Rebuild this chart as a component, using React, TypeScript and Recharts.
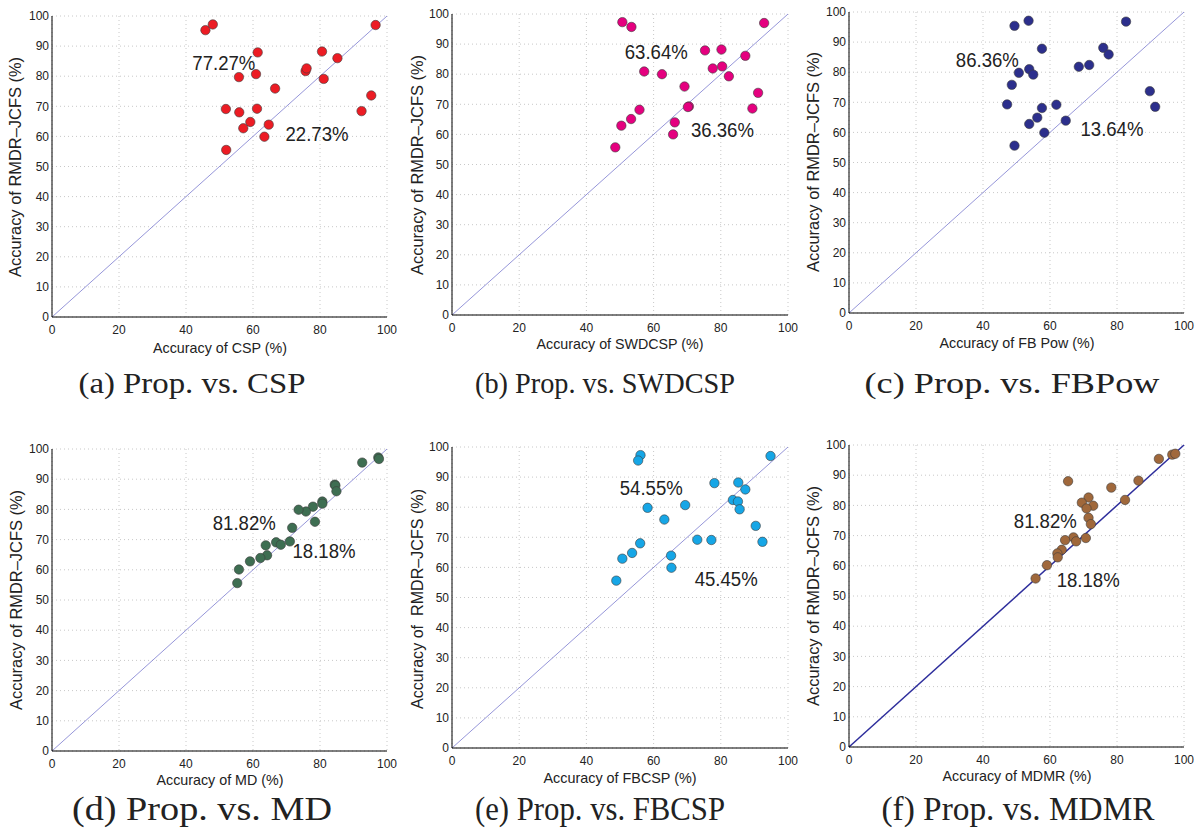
import { ScatterChart, Scatter, XAxis, YAxis, CartesianGrid, ReferenceLine } from 'recharts'

const xTicks = [0, 20, 40, 60, 80, 100]
const yTicks = [0, 10, 20, 30, 40, 50, 60, 70, 80, 90, 100]

// x = competing method, y = proposed RMDR-JCFS (22 subjects each)
const cspX = [45.8, 48.0, 61.4, 55.8, 60.9, 66.6, 51.9, 55.9, 61.2, 59.2, 57.1, 64.7, 63.4, 52.0, 75.7, 76.0, 80.6, 85.2, 81.1, 96.6, 95.3, 92.4]
const cspY = [95.3, 97.2, 87.9, 79.7, 80.7, 75.9, 69.1, 68.0, 69.2, 64.8, 62.7, 63.9, 59.9, 55.5, 81.7, 82.6, 88.2, 86.0, 79.1, 97.0, 73.6, 68.4]

const swdcspX = [50.7, 53.4, 75.3, 80.2, 87.3, 92.9, 77.6, 80.4, 82.4, 57.2, 62.5, 69.2, 70.5, 70.2, 91.1, 89.4, 55.8, 53.3, 50.4, 66.3, 65.8, 48.6]
const swdcspY = [97.3, 95.7, 87.9, 88.2, 86.1, 97.0, 81.9, 82.6, 79.3, 80.9, 80.0, 75.9, 69.3, 69.1, 73.8, 68.6, 68.2, 65.1, 62.9, 64.0, 60.0, 55.7]

const fbpowX = [49.4, 53.6, 82.7, 57.6, 75.9, 77.5, 68.6, 71.7, 50.7, 53.8, 55.0, 48.6, 89.8, 91.4, 47.2, 57.6, 61.9, 56.2, 53.8, 64.7, 58.3, 49.4]
const fbpowY = [95.4, 97.1, 96.8, 87.8, 88.1, 85.9, 81.8, 82.4, 79.8, 81.0, 79.2, 75.8, 73.7, 68.5, 69.3, 68.1, 69.2, 64.9, 62.8, 63.9, 59.9, 55.6]

const mdX = [92.6, 97.4, 97.6, 84.4, 84.6, 84.9, 80.7, 80.7, 77.9, 75.8, 73.6, 78.5, 71.7, 71.0, 66.9, 68.3, 63.8, 64.2, 62.2, 59.1, 55.8, 55.3]
const mdY = [95.5, 97.2, 96.7, 88.2, 87.9, 86.0, 82.6, 81.9, 80.9, 79.3, 79.9, 75.9, 73.9, 69.4, 69.1, 68.3, 68.1, 64.8, 63.9, 62.8, 60.1, 55.6]

const fbcspX = [56.1, 55.4, 94.8, 78.1, 85.2, 87.3, 83.6, 85.1, 85.6, 69.4, 58.2, 63.2, 90.4, 92.4, 73.0, 77.2, 56.0, 53.6, 50.7, 65.2, 65.3, 48.9]
const fbcspY = [97.3, 95.5, 97.0, 88.0, 88.2, 85.9, 82.4, 81.9, 79.3, 80.7, 79.8, 75.9, 73.8, 68.5, 69.2, 69.1, 68.0, 64.8, 62.9, 63.9, 59.9, 55.6]

const mdmrX = [92.5, 96.5, 97.4, 65.4, 86.4, 78.3, 82.4, 71.5, 69.5, 72.9, 70.9, 71.5, 72.2, 70.7, 67.0, 64.5, 67.8, 63.5, 62.2, 62.3, 59.1, 55.7]
const mdmrY = [95.4, 96.8, 97.1, 88.0, 88.2, 85.9, 81.8, 82.6, 80.9, 79.9, 79.0, 75.9, 73.8, 69.2, 69.4, 68.5, 68.1, 65.3, 64.1, 62.8, 60.2, 55.8]

// percentage above / below the diagonal, placed in data coords
const cspNotes = [{ text: '77.27%', x: 51.3, y: 84.5 }, { text: '22.73%', x: 79.1, y: 60.7 }]
const swdcspNotes = [{ text: '63.64%', x: 60.8, y: 87.5 }, { text: '36.36%', x: 80.5, y: 61.4 }]
const fbpowNotes = [{ text: '86.36%', x: 41.3, y: 84.2 }, { text: '13.64%', x: 78.5, y: 61.0 }]
const mdNotes = [{ text: '81.82%', x: 57.4, y: 75.4 }, { text: '18.18%', x: 81.2, y: 66.2 }]
const fbcspNotes = [{ text: '54.55%', x: 59.3, y: 86.5 }, { text: '45.45%', x: 81.6, y: 56.0 }]
const mdmrNotes = [{ text: '81.82%', x: 58.6, y: 74.8 }, { text: '18.18%', x: 71.4, y: 55.3 }]

const SANS = '"Liberation Sans", Arial, Helvetica, sans-serif'
const SERIF = '"Liberation Serif", "Times New Roman", serif'

const panels = [
  { xs: cspX, ys: cspY, notes: cspNotes, color: '#ec1c24', line: '#7b7bcf', lw: 0.8, left: 52, top: 16, w: 335, h: 301 },
  { xs: swdcspX, ys: swdcspY, notes: swdcspNotes, color: '#e5007f', line: '#7b7bcf', lw: 0.8, left: 452, top: 14, w: 336, h: 301 },
  { xs: fbpowX, ys: fbpowY, notes: fbpowNotes, color: '#2c2f8c', line: '#7b7bcf', lw: 0.8, left: 849, top: 12, w: 335, h: 301 },
  { xs: mdX, ys: mdY, notes: mdNotes, color: '#3e6e52', line: '#7b7bcf', lw: 0.8, left: 52, top: 449, w: 335, h: 302 },
  { xs: fbcspX, ys: fbcspY, notes: fbcspNotes, color: '#16a6e6', line: '#7b7bcf', lw: 0.8, left: 452, top: 447, w: 336, h: 301 },
  { xs: mdmrX, ys: mdmrY, notes: mdmrNotes, color: '#a0683b', line: '#2e2e9c', lw: 1.5, left: 849, top: 445, w: 335, h: 302 },
]

const xLabels = [
  { text: 'Accuracy of CSP (%)', x: 220, y: 347, len: 134 },
  { text: 'Accuracy of SWDCSP (%)', x: 620, y: 343, len: 167 },
  { text: 'Accuracy of FB Pow (%)', x: 1017, y: 342, len: 155 },
  { text: 'Accuracy of MD (%)', x: 220, y: 779, len: 127 },
  { text: 'Accuracy of FBCSP (%)', x: 620, y: 777, len: 153 },
  { text: 'Accuracy of MDMR (%)', x: 1017, y: 775, len: 149 },
]

const yLabels = [
  { text: 'Accuracy of RMDR\u2013JCFS (%)', x: 15, y: 167 },
  { text: 'Accuracy of RMDR\u2013JCFS (%)', x: 417, y: 165 },
  { text: 'Accuracy of RMDR\u2013JCFS (%)', x: 813, y: 162 },
  { text: 'Accuracy of RMDR\u2013JCFS (%)', x: 16, y: 600 },
  { text: 'Accuracy of  RMDR\u2013JCFS (%)', x: 417, y: 599 },
  { text: 'Accuracy of RMDR\u2013JCFS (%)', x: 813, y: 596 },
]

const captions = [
  { text: '(a) Prop. vs. CSP', x: 192, y: 393, len: 227, size: 30 },
  { text: '(b) Prop. vs. SWDCSP', x: 605, y: 393, len: 260, size: 30 },
  { text: '(c) Prop. vs. FBPow', x: 1012, y: 393, len: 295, size: 30 },
  { text: '(d) Prop. vs. MD', x: 202, y: 820, len: 260, size: 33 },
  { text: '(e) Prop. vs. FBCSP', x: 600, y: 820, len: 250, size: 33 },
  { text: '(f) Prop. vs. MDMR', x: 1018, y: 820, len: 273, size: 33 },
]

const tickStyle = { fontSize: 12, fill: '#222', fontFamily: SANS }

function Panel({ p }: { p: (typeof panels)[number] }) {
  const data = p.xs.map((x, i) => ({ x, y: p.ys[i] }))
  const padL = 40
  const padT = 10
  const padR = 12
  const padB = 30
  return (
    <div style={{ position: 'absolute', left: p.left - padL, top: p.top - padT }}>
      <ScatterChart
        width={p.w + padL + padR}
        height={p.h + padT + padB}
        margin={{ top: padT, right: padR, bottom: 0, left: 0 }}
      >
        <CartesianGrid stroke="#c8c8c8" strokeDasharray="1 3" />
        <XAxis
          type="number"
          dataKey="x"
          domain={[0, 100]}
          ticks={xTicks}
          height={padB}
          tickLine={false}
          tickSize={6}
          tickMargin={2}
          axisLine={{ stroke: '#000' }}
          tick={tickStyle}
          allowDataOverflow
        />
        <YAxis
          type="number"
          dataKey="y"
          domain={[0, 100]}
          ticks={yTicks}
          width={padL}
          tickLine={false}
          tickSize={1}
          tickMargin={2}
          axisLine={{ stroke: '#000' }}
          tick={tickStyle}
          allowDataOverflow
        />
        <ReferenceLine
          segment={[{ x: 0, y: 0 }, { x: 100, y: 100 }]}
          stroke={p.line}
          strokeWidth={p.lw}
          ifOverflow="visible"
        />
        <Scatter
          data={data}
          isAnimationActive={false}
          shape={(s: any) => (
            <circle cx={s.cx} cy={s.cy} r={4.7} fill={p.color} stroke="#3c3c3c" strokeWidth={0.6} />
          )}
        />
        <Scatter
          data={p.notes}
          isAnimationActive={false}
          shape={(s: any) => (
            <text
              x={s.cx}
              y={s.cy}
              textAnchor="middle"
              dominantBaseline="central"
              fontFamily={SANS}
              fontSize={20}
              fill="#222"
              textLength={63}
              lengthAdjust="spacingAndGlyphs"
            >
              {s.payload.text}
            </text>
          )}
        />
      </ScatterChart>
    </div>
  )
}

export default function App() {
  return (
    <div style={{ position: 'absolute', left: 0, top: 0, width: 1201, height: 829, background: '#fff' }}>
      {panels.map((p, i) => (
        <Panel key={i} p={p} />
      ))}
      <svg width={1201} height={829} style={{ position: 'absolute', left: 0, top: 0, pointerEvents: 'none' }}>
        {xLabels.map((l, i) => (
          <text
            key={'x' + i}
            x={l.x}
            y={l.y}
            textAnchor="middle"
            dominantBaseline="central"
            fontFamily={SANS}
            fontSize={15}
            fill="#222"
            textLength={l.len}
            lengthAdjust="spacingAndGlyphs"
          >
            {l.text}
          </text>
        ))}
        {yLabels.map((l, i) => (
          <text
            key={'y' + i}
            transform={`translate(${l.x},${l.y}) rotate(-90)`}
            textAnchor="middle"
            dominantBaseline="central"
            fontFamily={SANS}
            fontSize={16}
            fill="#222"
            textLength={220}
            lengthAdjust="spacingAndGlyphs"
            style={{ whiteSpace: 'pre' }}
          >
            {l.text}
          </text>
        ))}
        {captions.map((c, i) => (
          <text
            key={'c' + i}
            x={c.x}
            y={c.y}
            textAnchor="middle"
            fontFamily={SERIF}
            fontSize={c.size}
            fill="#222"
            textLength={c.len}
            lengthAdjust="spacingAndGlyphs"
          >
            {c.text}
          </text>
        ))}
      </svg>
    </div>
  )
}
